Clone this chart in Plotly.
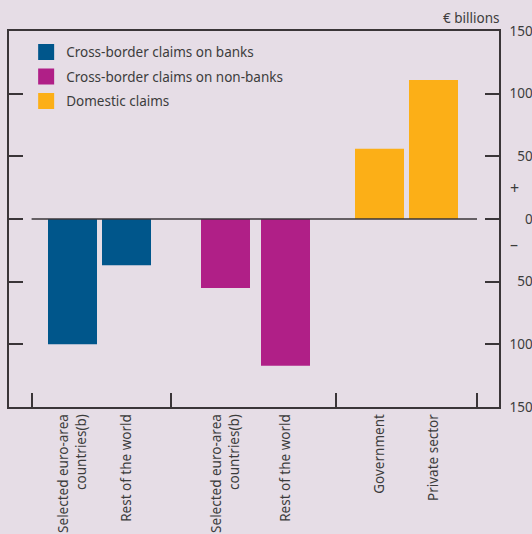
import plotly.graph_objects as go

# ---- data ----
series_names = ["Cross-border claims on banks", "Cross-border claims on non-banks", "Domestic claims"]
banks = [-100, -37]
non_banks = [-55, -117]
domestic = [56, 111]
tick_labels = ["Selected euro-area<br>countries(b)", "Rest of the world",
               "Selected euro-area<br>countries(b)", "Rest of the world",
               "Government", "Private sector"]
y_tickvals = [-150, -100, -50, 0, 50, 100, 150]

# ---- layout / styling ----
colors = ["#00568b", "#b01f87", "#fcaf17"]
bg = "#e6dde6"
axis_col = "#3a3538"
text_col = "#3c3c3c"
FONT = "Noto Sans"
# bar slot centres and group separators (axis units)
x_pos = [63.5, 117.5, 216.5, 276.5, 370.5, 424.5]
separators = [22.6, 162, 327, 468]
bar_w = 49

fig = go.Figure()
for i, (name, vals, col, xs) in enumerate(zip(series_names, [banks, non_banks, domestic], colors,
                                              [x_pos[0:2], x_pos[2:4], x_pos[4:6]])):
    fig.add_trace(go.Bar(x=xs, y=vals, width=bar_w, marker=dict(color=col, line=dict(width=0)),
                         showlegend=False, name=name))
    fig.add_trace(go.Scatter(x=[None], y=[None], mode="markers", name=name,
                             legendgroup=f"g{i}",
                             marker=dict(symbol="square", size=16, color=col)))

# separator ticks on overlaying axis
fig.add_trace(go.Scatter(x=[None], y=[None], xaxis="x2", showlegend=False))

def ytext(v):
    s = str(abs(v))
    return "\u2007" * (3 - len(s)) + s

fig.update_layout(
    width=532, height=534,
    margin=dict(l=9, r=33, t=31, b=127, autoexpand=False),
    paper_bgcolor=bg, plot_bgcolor=bg,
    font=dict(family=FONT, size=13.5, color=text_col),
    barmode="overlay",
    legend=dict(x=0.035, y=0.985, xanchor="left", yanchor="top", bgcolor="rgba(0,0,0,0)",
                font=dict(size=13.5, color=text_col), tracegroupgap=4, traceorder="grouped"),
    xaxis=dict(range=[0, 490], tickvals=x_pos, ticktext=tick_labels, tickangle=-90,
               showline=True, linecolor=axis_col, linewidth=1.5, mirror=True,
               ticks="", showgrid=False, zeroline=False, automargin=False,
               tickfont=dict(size=13.5, color=text_col)),
    xaxis2=dict(range=[0, 490], overlaying="x", side="bottom", tickvals=separators,
                ticks="inside", ticklen=14, tickwidth=1.5, tickcolor=axis_col,
                showticklabels=False, showline=False, showgrid=False, zeroline=False),
    yaxis=dict(range=[-150, 150], side="right", tickvals=y_tickvals,
               ticktext=[ytext(v) for v in y_tickvals],
               ticks="inside", ticklen=14, tickwidth=1.5, tickcolor=axis_col,
               showline=True, linecolor=axis_col, linewidth=1.5, mirror="ticks",
               showgrid=False, zeroline=False, ticklabelstandoff=6, automargin=False,
               tickfont=dict(size=13.5, color=text_col)),
)

fig.add_shape(type="line", xref="x", yref="y", x0=separators[0], x1=separators[-1], y0=0, y1=0,
              line=dict(color=axis_col, width=1.5), layer="above")

fig.add_annotation(text="+", xref="paper", yref="y", x=1.031, y=25, showarrow=False,
                   font=dict(size=16, color=text_col), xanchor="center", yanchor="middle")
fig.add_annotation(text="\u2013", xref="paper", yref="y", x=1.031, y=-20, showarrow=False,
                   font=dict(size=16, color=text_col), xanchor="center", yanchor="middle")
fig.add_annotation(text="€ billions", xref="paper", yref="paper", x=1.004, y=1.035,
                   showarrow=False, xanchor="right", yanchor="middle",
                   font=dict(size=13.5, color=text_col))

fig.write_html("out.html", config={"displayModeBar": False},
               post_script="document.body.style.margin='0';")
